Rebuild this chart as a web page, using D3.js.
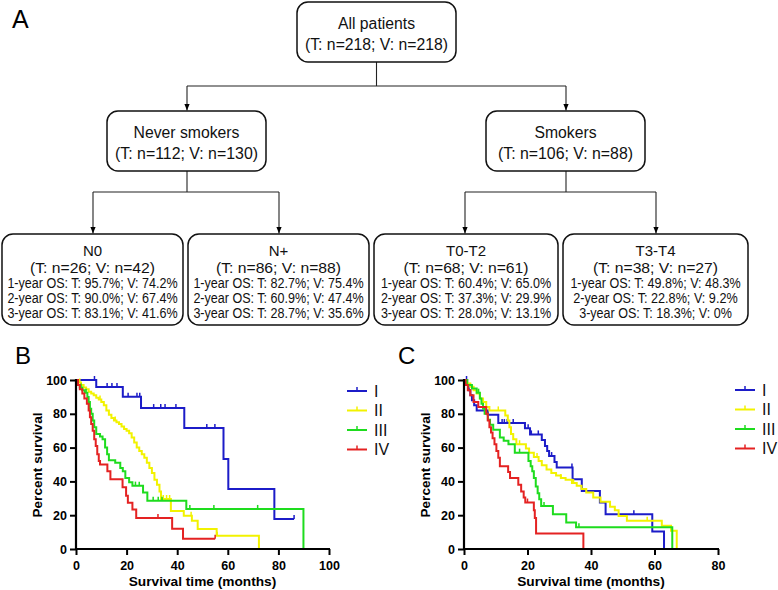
<!DOCTYPE html>
<html><head><meta charset="utf-8">
<script src="https://cdn.jsdelivr.net/npm/d3@7/dist/d3.min.js"></script>
<style>body{margin:0;background:#fff}svg{display:block}</style>
</head><body>
<svg id="chart" width="778" height="590"></svg>
<script>
// ---------- Panel A: flow chart texts ----------
const topLabels = ["All patients", "(T: n=218; V: n=218)"];
const midLabels = [["Never smokers", "(T: n=112; V: n=130)"], ["Smokers", "(T: n=106; V: n=88)"]];
const leafTitles = ["N0", "N+", "T0-T2", "T3-T4"];
const leafCounts = ["(T: n=26; V: n=42)", "(T: n=86; V: n=88)", "(T: n=68; V: n=61)", "(T: n=38; V: n=27)"];
const leafOS1 = ["1-year OS: T: 95.7%; V: 74.2%", "1-year OS: T: 82.7%; V: 75.4%", "1-year OS: T: 60.4%; V: 65.0%", "1-year OS: T: 49.8%; V: 48.3%"];
const leafOS2 = ["2-year OS: T: 90.0%; V: 67.4%", "2-year OS: T: 60.9%; V: 47.4%", "2-year OS: T: 37.3%; V: 29.9%", "2-year OS: T: 22.8%; V: 9.2%"];
const leafOS3 = ["3-year OS: T: 83.1%; V: 41.6%", "3-year OS: T: 28.7%; V: 35.6%", "3-year OS: T: 28.0%; V: 13.1%", "3-year OS: T: 18.3%; V: 0%"];

// ---------- Panels B and C: Kaplan-Meier data ----------
const stages = ["I", "II", "III", "IV"];
const xTicksB = [0, 20, 40, 60, 80, 100];
const xTicksC = [0, 20, 40, 60, 80];
const yTicks = [0, 20, 40, 60, 80, 100];

// Panel B
const B_I_time = [0, 8, 18.5, 25.7, 42.8, 58.3, 60.2, 78.4, 86.2];
const B_I_surv = [100, 95.8, 90.1, 83.4, 71.6, 53.2, 35.5, 17.7, 17.7];
const B_I_cens = [7.3, 12.3, 14.2, 16.2, 20.6, 24.1, 25.2, 30.7, 33.5, 35.2, 39.5, 51.7, 54.9, 86.2];

const B_II_time = [0, 1, 2, 3, 4, 5, 6, 7, 8, 9, 10, 11, 12, 13, 14, 15, 16, 17, 18, 19, 20, 21, 22, 23, 24, 25, 26, 27, 28, 29, 30, 31, 32, 33, 33.6, 37.5, 42.6, 45.8, 48.1, 55.6, 72.3];
const B_II_surv = [100, 98.5, 97, 95.5, 94.5, 93, 92, 91, 89.5, 88.5, 87, 85, 82, 79.5, 77.5, 76, 75, 74, 72.5, 71, 70, 68.5, 66, 63, 60, 58, 56, 54, 51, 48, 45, 41, 38, 34, 29.6, 22.5, 19.7, 16.7, 11.8, 7.9, 0];
const B_II_cens = [1.5, 9.5, 15.5, 34.5, 35.8, 37, 45.5, 55.8];

const B_III_time = [0, 0.6, 1.5, 2.5, 3.5, 4.5, 5, 5.5, 6, 6.6, 7.2, 8, 9.5, 10.5, 11.5, 12.3, 13, 15.5, 17.5, 18.5, 19.5, 21, 22.3, 26.5, 28.2, 43.6, 89.9];
const B_III_surv = [100, 97, 95.5, 94, 92.5, 90, 87, 83, 80, 76, 72, 68, 66.5, 65, 60, 56, 52.5, 51, 48, 46, 42, 39.5, 37.5, 33.5, 28.5, 23.7, 0];
const B_III_cens = [2, 4, 23.5, 25, 30.5, 32.5, 34, 45, 54.5, 71.8];

const B_IV_time = [0, 0.8, 1.5, 2.5, 3.3, 4.3, 5, 5.5, 6, 6.6, 7.2, 7.8, 8.4, 9, 9.5, 12.4, 13.6, 18.4, 19.8, 20.5, 22.3, 23.8, 38, 42.3, 55];
const B_IV_surv = [100, 97, 94.5, 92, 89, 86, 82, 78, 74, 70, 65, 61, 56, 52, 50, 46, 41.2, 36.5, 31.5, 27.4, 23.4, 18.4, 12, 6.1, 6.1];
const B_IV_cens = [32.4, 55];

// Panel C
const C_I_time = [0, 1, 1.5, 2, 2.5, 3.2, 4, 7.5, 10.8, 19.2, 20.8, 24.5, 25.5, 26.2, 26.8, 28.5, 29.2, 34.2, 37.1, 42.8, 44.6, 59.3, 63];
const C_I_surv = [100, 97, 94, 91, 88, 85, 82, 79.5, 74.5, 71.5, 67.8, 64.5, 61, 58, 55, 51.5, 48.2, 41.2, 34.3, 27.5, 20.6, 10.3, 0];
const C_I_cens = [0.8, 12, 12.7, 13.6, 15.5, 20.2, 21.2, 23.4, 27.6, 34, 53.5];

const C_II_time = [0, 1, 2, 3, 4, 5, 6, 7, 8, 13, 13.8, 14.3, 14.8, 15.5, 16.5, 19.5, 20.5, 22, 23.5, 24.5, 26, 27.5, 29, 30.5, 32, 34, 35.5, 37, 38.5, 40.7, 43, 46, 47.5, 48.7, 51.3, 62.3, 65.2, 67];
const C_II_surv = [100, 98, 96, 94, 92, 89, 87, 84, 82, 79, 76, 72, 68, 65, 62, 59.5, 57, 54.5, 52, 49.5, 47, 45, 43.5, 42, 41, 39, 37.5, 35.5, 33.5, 30.5, 28, 25, 23, 19.6, 16.7, 13.7, 10.8, 0];
const C_II_cens = [3, 10.8, 17.5, 23, 30.5, 34.5, 57.7];

const C_III_time = [0, 1, 2.5, 4, 5, 5.5, 6, 6.5, 7.5, 8.2, 9.2, 11.3, 12.5, 14, 16, 20.3, 21, 21.5, 22, 22.6, 23.2, 23.7, 24.3, 28, 32.2, 35.3, 65.6];
const C_III_surv = [100, 97, 95, 92.5, 89, 86, 83, 80, 76.5, 73.5, 70.6, 66, 64, 62, 57, 52, 49, 46, 42, 37, 33, 29.4, 25.5, 20.6, 15.7, 12.8, 0];
const C_III_cens = [4.6, 17.5, 25.2, 36.2];

const C_IV_time = [0, 0.5, 1.2, 2, 3, 4.5, 7, 7.5, 8, 8.5, 9, 9.6, 10.2, 10.8, 11.3, 13.9, 14.5, 17.1, 18, 18.8, 19.3, 22, 22.3, 22.7, 37.6];
const C_IV_surv = [100, 97, 94, 91, 87, 84, 80, 76, 72, 69, 65.5, 62, 58, 54, 49, 45.5, 42, 38, 34, 30.5, 27.5, 23, 18.3, 9.2, 0];
const C_IV_cens = [20];

const colors = ["#1c1cc8", "#f2f200", "#1edc1e", "#e42222"];
const FONT = "Arial, 'Liberation Sans', Helvetica, sans-serif";

const svg = d3.select("#chart");

// ---------------- Panel A ----------------
const A = svg.append("g");
A.append("text").attr("x", 12).attr("y", 28).attr("font-family", FONT).attr("font-size", 25).text("A");

const defs = svg.append("defs");
defs.append("marker").attr("id", "arr").attr("viewBox", "0 0 10 10").attr("refX", 10).attr("refY", 5)
  .attr("markerWidth", 6).attr("markerHeight", 6).attr("orient", "auto")
  .append("path").attr("d", "M0,1 L10,5 L0,9 Z").attr("fill", "#000");

function box(g, x, y, w, h) {
  g.append("rect").attr("x", x).attr("y", y).attr("width", w).attr("height", h)
    .attr("rx", 11).attr("ry", 11).attr("fill", "#fff").attr("stroke", "#111").attr("stroke-width", 1.5);
}
function line(g, x1, y1, x2, y2, arrow) {
  const l = g.append("line").attr("x1", x1).attr("y1", y1).attr("x2", x2).attr("y2", y2)
    .attr("stroke", "#222").attr("stroke-width", 1.1);
  if (arrow) l.attr("marker-end", "url(#arr)");
}
function label(g, x, y, txt, size, len) {
  const t = g.append("text").attr("x", x).attr("y", y).attr("text-anchor", "middle")
    .attr("font-family", FONT).attr("font-size", size).attr("fill", "#111").text(txt);
  if (len) t.attr("textLength", len).attr("lengthAdjust", "spacingAndGlyphs");
}

// connectors
line(A, 376.5, 62, 376.5, 86);
line(A, 187, 86, 566, 86);
line(A, 187, 86, 187, 110.5, true);
line(A, 566, 86, 566, 110.5, true);
line(A, 187, 171, 187, 192);
line(A, 93, 192, 279, 192);
line(A, 93, 192, 93, 233.5, true);
line(A, 279, 192, 279, 233.5, true);
line(A, 566, 171, 566, 192);
line(A, 465, 192, 656, 192);
line(A, 465, 192, 465, 233.5, true);
line(A, 656, 192, 656, 233.5, true);

// top box
box(A, 297, 2, 159, 60);
label(A, 376.5, 29, topLabels[0], 16, 77);
label(A, 376.5, 50, topLabels[1], 16, 143);
// mid boxes
const midX = [107, 486];
midLabels.forEach((lab, i) => {
  box(A, midX[i], 111, 159, 60);
  label(A, midX[i] + 79.5, 138, lab[0], 16, i === 0 ? 106 : 62);
  label(A, midX[i] + 79.5, 159, lab[1], 16, i === 0 ? 143 : 135);
});
// leaf boxes
const leafX = [2, 188, 374, 563];
const leafW = [181, 181, 184, 185];
leafTitles.forEach((t, i) => {
  const cx = leafX[i] + leafW[i] / 2;
  box(A, leafX[i], 234, leafW[i], 91);
  label(A, cx, 255.5, t, 15);
  label(A, cx, 272.5, leafCounts[i], 15, leafCounts[i].length * 6.95);
  [leafOS1[i], leafOS2[i], leafOS3[i]].forEach((s, k) => {
    label(A, cx, 287.5 + k * 15, s, 14, s.length * 5.87);
  });
});

// ---------------- Panels B & C ----------------
function stepAt(times, surv, t) {
  let v = surv[0];
  for (let i = 0; i < times.length; i++) { if (times[i] <= t) v = surv[i]; }
  return v;
}

function kmPanel(opt) {
  const g = svg.append("g");
  const x = d3.scaleLinear().domain([0, opt.xmax]).range([opt.x0, opt.x1]);
  const y = d3.scaleLinear().domain([0, 100]).range([549, 380]);

  g.append("text").attr("x", opt.letterX).attr("y", 364).attr("font-family", FONT).attr("font-size", 24).text(opt.letter);

  // curves
  const lineGen = d3.line().x(d => x(d[0])).y(d => y(d[1])).curve(d3.curveStepAfter);
  opt.series.forEach((s, i) => {
    const pts = s.time.map((t, k) => [t, s.surv[k]]);
    g.append("path").attr("d", lineGen(pts)).attr("fill", "none")
      .attr("stroke", colors[i]).attr("stroke-width", 2).attr("stroke-linejoin", "miter");
    g.selectAll(null).data(s.cens).enter().append("line")
      .attr("x1", d => x(d)).attr("x2", d => x(d))
      .attr("y1", d => y(stepAt(s.time, s.surv, d)) - 4)
      .attr("y2", d => y(stepAt(s.time, s.surv, d)))
      .attr("stroke", colors[i]).attr("stroke-width", 1.5);
  });

  // axes
  const xAxis = d3.axisBottom(x).tickValues(opt.xTicks).tickSize(6).tickSizeOuter(0);
  const yAxis = d3.axisLeft(y).tickValues(yTicks).tickSize(6).tickSizeOuter(0);
  const gx = g.append("g").attr("transform", "translate(0,549)").call(xAxis);
  const gy = g.append("g").attr("transform", `translate(${opt.x0},0)`).call(yAxis);
  [gx, gy].forEach(a => {
    a.select(".domain").attr("stroke", "#000").attr("stroke-width", 2.2);
    a.selectAll(".tick line").attr("stroke", "#000").attr("stroke-width", 2);
    a.selectAll(".tick text").attr("font-family", FONT).attr("font-size", 12.5)
      .attr("font-weight", "bold").attr("fill", "#000");
  });
  gx.select(".domain").attr("d", `M${opt.x0 - 1},0H${opt.x1 + 1}`);
  gy.select(".domain").attr("d", `M0,${549 + 1}V379`);
  gx.selectAll(".tick text").attr("dy", "0.95em");

  g.append("text").attr("x", (opt.x0 + opt.x1) / 2 + 0).attr("y", 586).attr("text-anchor", "middle")
    .attr("font-family", FONT).attr("font-size", 13.7).attr("font-weight", "bold").text("Survival time (months)");
  g.append("text").attr("transform", `translate(${opt.yTitleX},465) rotate(-90)`).attr("text-anchor", "middle")
    .attr("dy", "0.35em").attr("font-family", FONT).attr("font-size", 13.6).attr("font-weight", "bold").text("Percent survival");

  // legend
  stages.forEach((s, i) => {
    const ly = opt.legY + i * 19.5;
    g.append("line").attr("x1", opt.legX).attr("x2", opt.legX + 20).attr("y1", ly).attr("y2", ly)
      .attr("stroke", colors[i]).attr("stroke-width", 2);
    g.append("line").attr("x1", opt.legX + 10).attr("x2", opt.legX + 10).attr("y1", ly - 4).attr("y2", ly)
      .attr("stroke", colors[i]).attr("stroke-width", 1.5);
    g.append("text").attr("x", opt.legX + 27).attr("y", ly).attr("dy", "0.36em")
      .attr("font-family", FONT).attr("font-size", 16).attr("fill", "#111").text(s);
  });
}

kmPanel({
  letter: "B", letterX: 15, xmax: 100, x0: 76, x1: 329, xTicks: xTicksB, yTitleX: 37,
  legX: 347, legY: 391,
  series: [
    {time: B_I_time, surv: B_I_surv, cens: B_I_cens},
    {time: B_II_time, surv: B_II_surv, cens: B_II_cens},
    {time: B_III_time, surv: B_III_surv, cens: B_III_cens},
    {time: B_IV_time, surv: B_IV_surv, cens: B_IV_cens}
  ]
});
kmPanel({
  letter: "C", letterX: 398, xmax: 80, x0: 464, x1: 718, xTicks: xTicksC, yTitleX: 425,
  legX: 735, legY: 390,
  series: [
    {time: C_I_time, surv: C_I_surv, cens: C_I_cens},
    {time: C_II_time, surv: C_II_surv, cens: C_II_cens},
    {time: C_III_time, surv: C_III_surv, cens: C_III_cens},
    {time: C_IV_time, surv: C_IV_surv, cens: C_IV_cens}
  ]
});
</script>
</body></html>
